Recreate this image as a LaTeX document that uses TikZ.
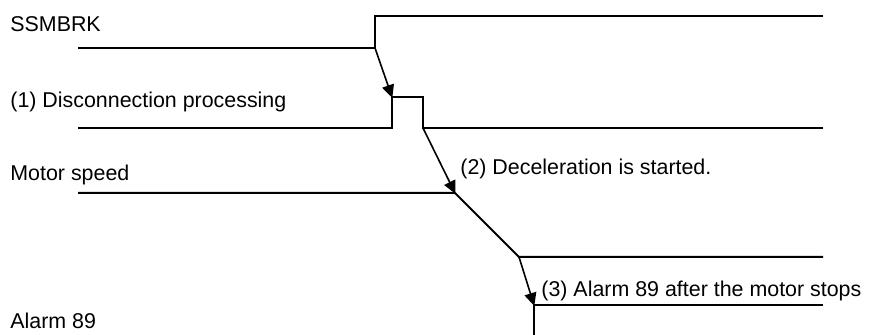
\documentclass[tikz,border=0pt]{standalone}
\usepackage{fontspec}
\setmainfont{Liberation Sans}
\usetikzlibrary{
    arrows.meta,
    positioning
}

\begin{document}
\begin{tikzpicture}[
        x=0.5pt, y=-0.5pt,
        every node/.style={font=\fontsize{10.7}{12}\selectfont, inner sep=0pt},
        siglabel/.style={anchor=base west},
        signal/.style={line width=1pt, draw=black, line join=miter},
        event/.style={-{Triangle[length=6.5pt,width=6pt]}, line width=0.8pt, draw=black, shorten >=-0.5pt}
    ]
        \useasboundingbox (0,0) rectangle (871,335);

        % signal names
        \node[siglabel] (ssmbrk) at (10,32) {SSMBRK};
        \node[siglabel] (disc) at (10,108) {(1) Disconnection processing};
        \node[siglabel] (speed) at (10,181) {Motor speed};
        \node[siglabel] (alarm) at (10,329) {Alarm 89};

        % edges of the waveforms
        \coordinate (brkrise) at (375,48);
        \coordinate (discrise) at (392,97);
        \coordinate (discfall) at (423,128);
        \coordinate (decstart) at (455,193);
        \coordinate (decend) at (519,257);
        \coordinate (alarmon) at (534,305);

        % waveforms
        \draw[signal] (78,48) -- (brkrise) -- (375,16) -- (823,16);
        \draw[signal] (78,128) -- (392,128) -- (discrise) -- (423,97) -- (discfall) -- (823,128);
        \draw[signal] (78,193) -- (decstart) -- (decend) -- (823,257);
        \draw[signal] (534,336) -- (alarmon) -- (823,305);

        % causal arrows
        \draw[event] (brkrise) -- (discrise);
        \draw[event] (discfall) -- (decstart);
        \draw[event] (decend) -- (alarmon);

        \node[siglabel] (decnote) at (460,175) {(2) Deceleration is started.};
        \node[siglabel] (alarmnote) at (541,297) {(3) Alarm 89 after the motor stops};
    \end{tikzpicture}
\end{document}
